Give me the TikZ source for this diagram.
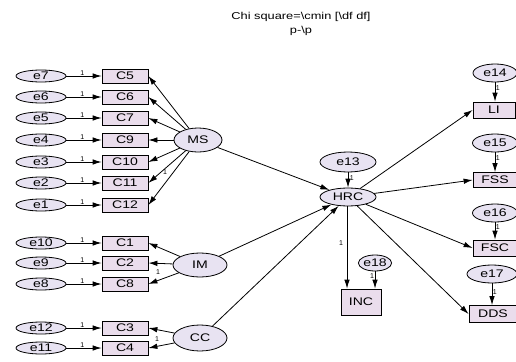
\documentclass[tikz,border=0pt]{standalone}
\usepackage{fontspec}
\usepackage{graphicx}
\setmainfont{Liberation Sans}
\usetikzlibrary{shapes.geometric,arrows.meta}
\definecolor{latfill}{HTML}{E8E3F2}
\definecolor{obsfill}{HTML}{EADDEC}
% labels are set slightly wide
\newcommand{\widetext}[1]{\scalebox{1.28}[1]{#1}}
\tikzset{
  lat/.style={ellipse,draw,line width=0.8pt,fill=latfill,inner sep=0pt,font=\fontsize{11}{11}\selectfont},
  obs/.style={rectangle,draw,line width=0.8pt,fill=obsfill,inner sep=0pt,font=\fontsize{11}{11}\selectfont},
  path/.style={line width=0.8pt,-{Latex[length=9pt,width=5.5pt]}},
  one/.style={font=\fontsize{7}{7}\selectfont,inner sep=0.5pt}
}
\begin{document}
\begin{tikzpicture}[x=1pt,y=-1pt]
\useasboundingbox (0,0) rectangle (516,361);
\fill[white] (0,0) rectangle (516,361);

% title
\node (t1) at (301,17) {\fontsize{10}{10}\selectfont\widetext{Chi square=\textbackslash cmin [\textbackslash df df]}};
\node (t2) at (301,31) {\fontsize{10}{10}\selectfont\widetext{p-\textbackslash p}};

% measurement model: indicators with error terms
\foreach \e/\c/\y in {e7/C5/76, e6/C6/97, e5/C7/118, e4/C9/140, e3/C10/162, e2/C11/183, e1/C12/205,
                      e10/C1/243, e9/C2/263, e8/C8/284, e12/C3/328, e11/C4/348} {
  \node[lat,minimum width=50pt,minimum height=12pt] (\e) at (41,\y) {\widetext{\e}};
  \node[obs,minimum width=46pt,minimum height=14pt] (\c) at (125,\y) {\widetext{\c}};
  \draw[path] (\e) -- (\c.west) node[one,pos=0.45,above] {1};
}

% latent factors
\node[lat,minimum width=48pt,minimum height=24pt] (MS) at (198,140) {\widetext{MS}};
\node[lat,minimum width=54pt,minimum height=24pt] (IM) at (200,265) {\widetext{IM}};
\node[lat,minimum width=54pt,minimum height=26pt] (CC) at (200,338) {\widetext{CC}};
\node[lat,minimum width=56pt,minimum height=18pt] (HRC) at (348,197) {\widetext{HRC}};
\node[lat,minimum width=56pt,minimum height=20pt] (e13) at (348,162) {\widetext{e13}};

\foreach \c in {C5,C6,C7,C9,C10,C11,C12} \draw[path] (MS) -- (\c.east);
\node[one] at (165,172) {1};
\foreach \c in {C1,C2,C8} \draw[path] (IM) -- (\c.east);
\node[one] at (158,272) {1};
\foreach \c in {C3,C4} \draw[path] (CC) -- (\c.east);
\node[one] at (157,339) {1};

\draw[path] (MS) -- (HRC);
\draw[path] (IM) -- (HRC);
\draw[path] (CC) -- (HRC);
\draw[path] (e13) -- (HRC) node[one,pos=0.4,right,xshift=1pt] {1};

% outcome indicators
\node[obs,minimum width=42pt,minimum height=16pt] (LI) at (494,110) {\widetext{LI}};
\node[obs,minimum width=44pt,minimum height=15pt] (FSS) at (495,180) {\widetext{FSS}};
\node[obs,minimum width=44pt,minimum height=16pt] (FSC) at (495,248) {\widetext{FSC}};
\node[obs,minimum width=48pt,minimum height=17pt] (DDS) at (493,314) {\widetext{DDS}};
\node[obs,minimum width=40pt,minimum height=26pt] (INC) at (361,302) {\widetext{INC}};

\node[lat,minimum width=44pt,minimum height=18pt] (e14) at (495,73) {\widetext{e14}};
\node[lat,minimum width=45pt,minimum height=18pt] (e15) at (495,143) {\widetext{e15}};
\node[lat,minimum width=45pt,minimum height=18pt] (e16) at (495,213) {\widetext{e16}};
\node[lat,minimum width=50pt,minimum height=18pt] (e17) at (492,274) {\widetext{e17}};
\node[lat,minimum width=29pt,minimum height=16pt] (e18) at (375,263) {\widetext{e18}};

\draw[path] (HRC) -- (LI.west);
\draw[path] (HRC) -- (FSS.west);
\draw[path] (HRC) -- (FSC.west);
\draw[path] (HRC) -- (DDS.west);
\coordinate (hb) at (347,206);
\draw[path] (hb) -- (hb |- INC.north) node[one,pos=0.45,left,xshift=-3pt] {1};

\draw[path] (e14) -- (e14 |- LI.north) node[one,pos=0.3,right] {1};
\draw[path] (e15) -- (e15 |- FSS.north) node[one,pos=0.3,right] {1};
\draw[path] (e16) -- (e16 |- FSC.north) node[one,pos=0.3,right] {1};
\draw[path] (e17) -- (e17 |- DDS.north) node[one,pos=0.4,right] {1};
\draw[path] (e18) -- (e18 |- INC.north) node[one,pos=0.3,left] {1};
\end{tikzpicture}
\end{document}
